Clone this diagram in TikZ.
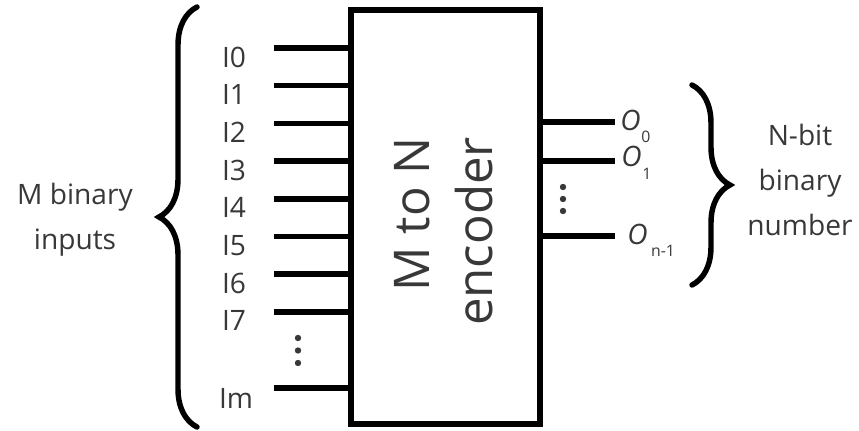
\documentclass[tikz,border=0pt]{standalone}
\usepackage{fontspec}
\setmainfont{Open Sans}
\usetikzlibrary{positioning, decorations.pathreplacing, calc}
\definecolor{txtGray}{RGB}{56,56,56}

\begin{document}
\begin{tikzpicture}[x=0.02cm, y=0.02cm,
    wire/.style={draw=black, line width=3.1pt},
    brc/.style={draw=black, line width=3.1pt, line cap=round, decorate, decoration={brace, amplitude=0.76cm}},
    lbl/.style={text=txtGray, font=\fontsize{16}{25.5}\selectfont, align=center, inner sep=0pt},
    inlbl/.style={text=txtGray, font=\fontsize{16}{16}\selectfont, inner sep=0pt},
    outlbl/.style={text=txtGray, font=\fontsize{16}{16}\selectfont\itshape, inner sep=0pt, anchor=base west}]
  \useasboundingbox (0,0) rectangle (859,430);
  \node[draw, line width=3.1pt, minimum width=3.78cm, minimum height=8.28cm, inner sep=0pt] (enc) at (445.5,213) {};
  \node[rotate=90, align=right, text=txtGray, font=\fontsize{28}{36}\selectfont] (title) at (444,198.5) {M to N\\encoder};
  \foreach \i in {0,...,7} {
    \coordinate (in\i) at (274,{382-37.7*\i});
    \draw[wire] (in\i) -- (in\i -| enc.west);
    \node[inlbl] (lblI\i) at ($(in\i)+(-40,-9)$) {I\i};
  }
  \coordinate (inm) at (274,42);
  \draw[wire] (inm) -- (inm -| enc.west);
  \node[inlbl] (lblIm) at ($(inm)+(-38,-10)$) {Im};
  \foreach \k in {0,1,2} \fill[txtGray] (298,{92-12.5*\k}) circle (3.2);
  \coordinate (out0) at (615,308);
  \coordinate (out1) at (615,269);
  \coordinate (outn) at (615,194);
  \foreach \o in {out0,out1,outn} \draw[wire] (\o -| enc.east) -- (\o);
  \node[outlbl] (lblO0) at (620,299) {O\hspace{0.5pt}\raisebox{-6.5pt}{\fontsize{9}{9}\selectfont\upshape 0}};
  \node[outlbl] (lblO1) at (621,263) {O\hspace{0.5pt}\raisebox{-7pt}{\fontsize{9}{9}\selectfont\upshape 1}};
  \node[outlbl] (lblOn) at (627,186) {O\hspace{2pt}\raisebox{-7pt}{\fontsize{9}{9}\selectfont\upshape n-1}};
  \foreach \k in {0,1,2} \fill[txtGray] (563,{243-12*\k}) circle (3.2);
  \draw[brc] (197,3) -- (197,423);
  \draw[brc] (692,345) -- (692,145);
  \node[lbl] (mIn) at (75,210) {M binary\\inputs};
  \node[lbl] (nOut) at (800,250) {N-bit\\binary\\number};
\end{tikzpicture}
\end{document}
